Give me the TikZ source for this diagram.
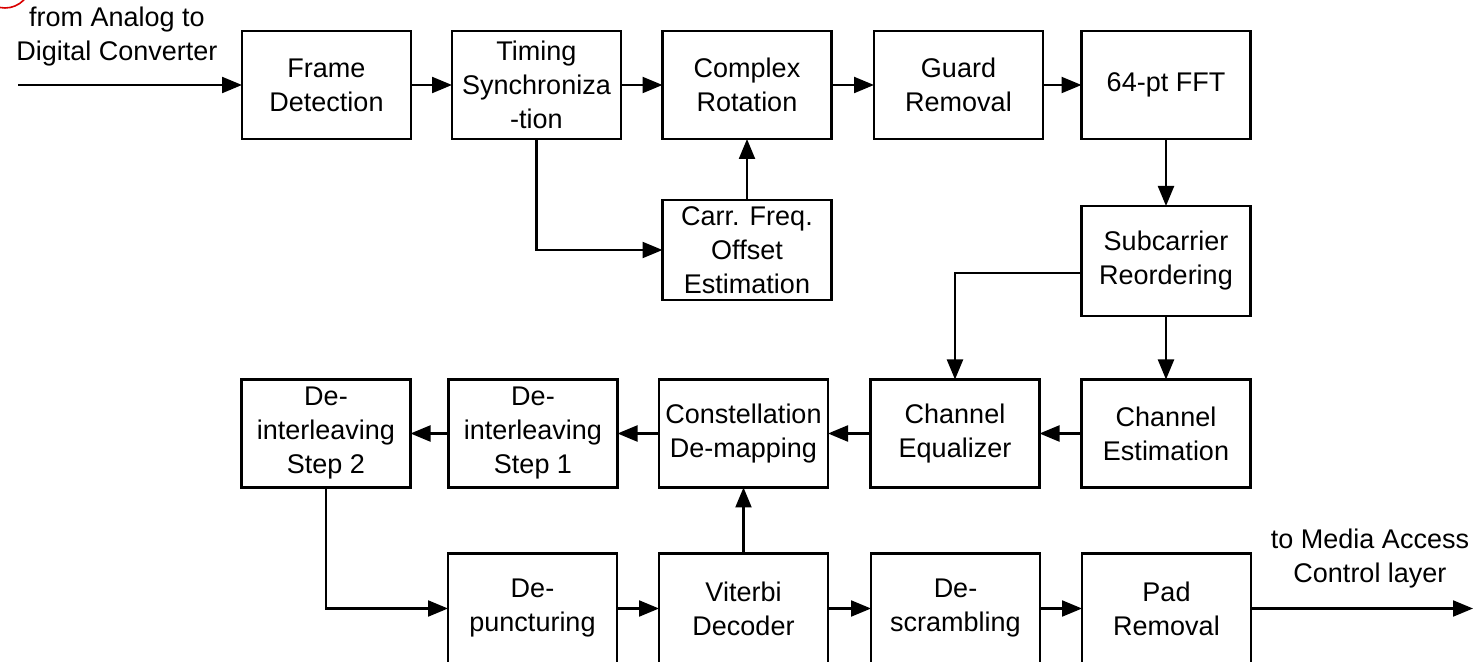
\documentclass[tikz,border=0pt]{standalone}
\usepackage{fontspec}
\setmainfont{Liberation Sans}
\usetikzlibrary{arrows.meta}
\begin{document}
\begin{tikzpicture}[x=0.5pt,y=-0.5pt,
  block/.style={draw, line width=1.1pt, minimum width=84.5pt, minimum height=54pt,
    inner sep=0pt, outer sep=0pt, align=center, font=\fontsize{13.5}{17}\selectfont},
  lowblock/.style={block, minimum height=55pt},
  flow/.style={line width=1.1pt, -{Triangle[length=10pt,width=8pt]}},
  lbl/.style={align=center, font=\fontsize{13.5}{17}\selectfont, inner sep=0pt}]
\clip (0,0) rectangle (1474,662);

% pen mark in the corner
\draw[red!85!black, line width=0.8pt] (5,-18) circle[radius=26];

% receiver front end
\node[block] (frame)   at (326.5,85) {Frame\\Detection};
\node[block] (timing)  at (536.5,85) {Timing\\Synchroniza\\-tion};
\node[block] (complex) at (747,85)   {Complex\\Rotation};
\node[block] (guard)   at (958.5,85) {Guard\\Removal};
\node[block] (fft)     at (1166,85)  {64-pt FFT};
\node[block, minimum height=50pt] (cfo) at (747,250) {Carr. Freq.\\Offset\\Estimation};
\node[block, minimum height=55pt] (sub) at (1166,261) {Subcarrier\\Reordering};

% equalisation and demapping
\node[block] (step2) at (326,433.5)  {De-\\interleaving\\Step 2};
\node[block] (step1) at (533,433.5)  {De-\\interleaving\\Step 1};
\node[block] (const) at (743.5,433.5){Constellation\\De-mapping};
\node[block] (eq)    at (955,433.5)  {Channel\\Equalizer};
\node[block] (est)   at (1166,433.5) {Channel\\Estimation};

% decoding
\node[lowblock] (depunct) at (532.5,608.5)  {De-\\puncturing};
\node[lowblock] (viterbi) at (743.5,608.5)  {Viterbi\\Decoder};
\node[lowblock] (descr)   at (955.5,608.5)  {De-\\scrambling};
\node[lowblock] (pad)     at (1166.5,608.5) {Pad\\Removal};

% external interfaces
\node[lbl] (inlbl)  at (117,37)   {from Analog to\\Digital Converter};
\node[lbl] (outlbl) at (1370,559) {to Media Access\\Control layer};
\coordinate (in)  at (18,85);
\coordinate (out) at (1473,608.5);

% signal flow
\draw[flow] (in) -- (frame.west);
\draw[flow] (frame) -- (timing);
\draw[flow] (timing) -- (complex);
\draw[flow] (complex) -- (guard);
\draw[flow] (guard) -- (fft);
\draw[flow] (timing.south) |- (cfo.west);
\draw[flow] (cfo) -- (complex);
\draw[flow] (fft) -- (sub);
\draw[flow] (sub) -- (est);
\draw[flow] ([yshift=-6pt]sub.west) -| (eq.north);
\draw[flow] (est) -- (eq);
\draw[flow] (eq) -- (const);
\draw[flow] (const) -- (step1);
\draw[flow] (step1) -- (step2);
\draw[flow] (step2.south) |- (depunct.west);
\draw[flow] (depunct) -- (viterbi);
\draw[flow] (viterbi) -- (const);
\draw[flow] (viterbi) -- (descr);
\draw[flow] (descr) -- (pad);
\draw[flow] (pad.east) -- (out);
\end{tikzpicture}
\end{document}
